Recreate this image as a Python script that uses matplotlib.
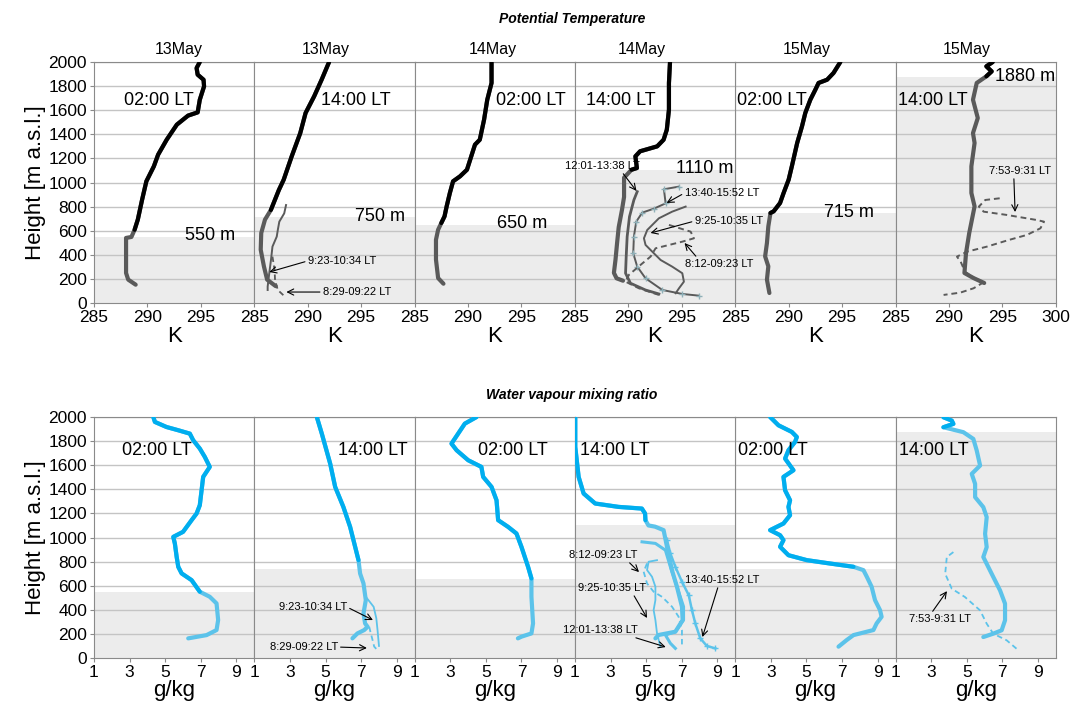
import numpy as np
import matplotlib
matplotlib.use("Agg")
import matplotlib.pyplot as plt

plt.rcParams['font.family'] = ['Liberation Sans', 'DejaVu Sans']

# ---- labels ---------------------------------------------------------------
days = ['13May', '13May', '14May', '14May', '15May', '15May']
times = ['02:00 LT', '14:00 LT', '02:00 LT', '14:00 LT', '02:00 LT', '14:00 LT']
bl_labels = ['550 m', '750 m', '650 m', '1110 m', '715 m', '1880 m']
# top of grey boundary-layer box (m), as drawn in each row
bl_theta = [550, 710, 650, 1105, 745, 1875]
bl_q = [550, 740, 655, 1105, 740, 1875]

# ---- potential temperature (K) / height (m) -------------------------------
th1_K = [288.9, 288.2, 288.0, 288.0, 288.0, 288.5, 288.8, 289.1, 289.5, 289.9, 290.6, 291.0,
         291.8, 292.75, 293.8, 294.7, 294.9, 295.3, 295.25, 294.7, 294.6, 294.9]
th1_z = [152, 194, 249, 415, 540, 548, 608, 692, 857, 1010, 1134, 1231,
         1355, 1480, 1555, 1582, 1687, 1798, 1853, 1895, 1950, 2000]

th2_K = [287.0, 286.2, 285.9, 285.6, 285.65, 286.0, 286.55, 287.3, 287.75, 288.5, 289.3,
         289.8, 290.6, 291.3, 292.0]
th2_z = [140, 194, 304, 442, 581, 692, 772, 938, 1023, 1217, 1410, 1577, 1715, 1853, 2000]
th2a_K = [286.25, 286.25, 286.4, 286.56, 286.7, 287.1, 287.2, 287.34, 287.8, 287.97]
th2a_z = [108, 136, 247, 357, 468, 551, 606, 675, 744, 813]
th2b_K = [286.7, 286.9, 286.94, 287.2, 287.8]
th2b_z = [385, 274, 191, 108, 58]

th3_K = [287.7, 287.2, 287.0, 287.0, 287.2, 287.5, 287.8, 288.0, 288.3, 288.6, 289.25,
         289.9, 290.3, 290.65, 291.1, 291.5, 291.8, 292.2, 292.2]
th3_z = [160, 207, 360, 525, 608, 664, 719, 802, 913, 1010, 1051, 1106, 1217, 1314, 1355,
         1521, 1687, 1826, 2000]

th4_K = [289.5, 288.9, 288.65, 288.8, 288.95, 289.1, 289.4, 289.6, 289.6, 290.3, 290.8,
         290.66, 291.1, 292.7, 293.3, 293.6, 293.8, 293.8, 293.9]
th4_z = [185, 205, 250, 360, 500, 630, 770, 880, 1040, 1106, 1120, 1217, 1259, 1300, 1355,
         1438, 1604, 1826, 2000]
th4a_K = [290.83, 290.52, 290.11, 289.89, 289.8, 289.74, 290.2, 291.6, 292.86]   # 12:01-13:38
th4a_z = [924, 855, 717, 551, 385, 247, 164, 108, 75]
th4b_K = [294.74, 293.33, 293.49, 292.39, 291.3, 290.74, 290.52, 290.46, 290.83, 291.61,
          293.18, 295.05, 296.6]                                                  # 13:40-15:52
th4b_z = [966, 944, 827, 783, 750, 675, 551, 413, 302, 205, 108, 75, 61]
th4c_K = [295.36, 294.1, 292.86, 291.77, 291.46, 291.61, 292.24, 293.02, 294.1, 295.05,
          295.2, 294.74, 294.43]                                                  # 9:25-10:35
th4c_z = [800, 758, 703, 606, 537, 482, 426, 357, 302, 247, 177, 122, 81]
th4d_K = [293.8, 295.83, 296.14, 295.05, 292.55, 292.08, 291.14, 290.05, 289.74, 290.99,
          292.86]                                                                 # 8:12-09:23
th4d_z = [648, 592, 537, 509, 454, 385, 316, 233, 177, 122, 67]

th5_K = [288.2, 287.97, 288.1, 287.8, 287.97, 288.1, 288.3, 288.6, 289.2, 289.53, 290.0,
         290.3, 290.8, 291.25, 291.56, 292.03, 292.5, 292.8, 293.6, 294.2, 294.84]
th5_z = [83, 194, 304, 387, 498, 636, 747, 761, 830, 913, 1023, 1134, 1328, 1466, 1577,
         1687, 1770, 1826, 1853, 1909, 2000]

th6_K = [293.3, 292.3, 291.45, 291.6, 291.9, 292.4, 292.1, 292.1, 292.4, 292.25, 292.7,
         292.25, 292.6, 293.5, 294.0, 293.5, 294.1]
th6_z = [166, 207, 249, 415, 581, 802, 913, 1134, 1328, 1410, 1535, 1687, 1826, 1881, 1922,
         1964, 2000]
th6a_K = [294.75, 293.4, 292.8, 293.25, 295.4, 298.2, 298.9, 298.56, 297.3, 295.6, 293.56,
          291.7, 290.75, 291.1, 291.5, 293.1, 292.3, 291.06, 289.5]
th6a_z = [869, 855, 800, 758, 731, 689, 675, 620, 565, 523, 468, 426, 385, 343, 260, 164,
          122, 86, 67]

# ---- water vapour mixing ratio (g/kg) / height (m) ------------------------
q1_g = [6.29, 7.32, 7.88, 7.97, 7.88, 7.5, 6.94, 6.48, 5.92, 5.73, 5.64, 5.54, 5.45, 6.0,
        6.48, 6.76, 6.94, 7.04, 7.13, 7.5, 7.22, 6.94, 6.57, 6.38, 5.73, 5.07, 4.42, 4.33]
q1_z = [163, 190, 232, 315, 453, 508, 550, 646, 702, 757, 840, 950, 1005, 1047, 1144, 1199,
        1268, 1392, 1503, 1586, 1669, 1738, 1807, 1862, 1890, 1917, 1959, 2000]

q2_g = [6.51, 6.79, 7.17, 7.36, 7.22, 7.13, 7.26, 7.13, 6.94, 6.85, 6.38, 6.0, 5.54, 5.26,
        4.79, 4.51]
q2_z = [163, 204, 232, 259, 287, 370, 480, 619, 701, 812, 1088, 1254, 1420, 1613, 1862, 2000]
q2a_g = [7.25, 7.7, 7.85, 7.92, 8.0]
q2a_z = [510, 425, 330, 230, 100]
q2b_g = [7.45, 7.55, 7.64, 7.73, 7.85]
q2b_z = [259, 200, 149, 95, 75]

q3_g = [6.8, 7.0, 7.56, 7.65, 7.56, 7.56, 7.37, 7.0, 6.72, 6.25, 5.69, 5.6, 5.32, 4.85,
        4.75, 4.01, 3.36, 3.07, 3.82, 4.48]
q3_z = [163, 177, 204, 287, 508, 660, 757, 922, 1033, 1088, 1144, 1309, 1420, 1503, 1586,
        1641, 1724, 1779, 1945, 2000]

q4_g = [5.52, 5.7, 6.64, 7.05, 7.01, 6.73, 6.45, 6.17, 5.98, 5.5, 5.13, 4.96, 4.94, 4.76,
        3.45, 2.14, 1.49, 1.21, 1.02, 1.02]
q4_z = [163, 191, 218, 315, 426, 591, 729, 923, 1061, 1090, 1100, 1144, 1199, 1240, 1254,
        1282, 1365, 1503, 1751, 2000]
q4a_g = [4.77, 5.52, 6.08, 6.36, 6.73, 7.1, 7.1, 6.64, 6.08, 6.36, 6.64]           # 12:01-13:38
q4a_z = [964, 951, 895, 757, 591, 426, 315, 218, 191, 122, 80]
q4b_g = [6.17, 6.36, 6.64, 7.01, 7.39, 7.57, 7.76, 8.04, 8.41, 8.88]               # 13:40-15:52
q4b_z = [978, 868, 757, 633, 522, 398, 287, 163, 100, 80]
q4c_g = [5.61, 5.14, 5.05, 5.33, 5.52, 5.52, 5.42, 5.52, 5.61, 5.8]                # 9:25-10:35
q4c_z = [812, 799, 730, 674, 591, 481, 398, 315, 205, 94]
q4d_g = [5.05, 4.86, 5.05, 5.42, 5.89, 6.45, 6.82, 7.01, 7.01]                     # 8:12-09:23
q4d_z = [785, 716, 619, 550, 508, 426, 343, 232, 94]

q5_g = [6.8, 7.26, 7.64, 8.76, 8.94, 9.22, 9.13, 8.85, 8.66, 8.39, 8.2, 7.64, 6.33, 5.02,
        3.99, 3.52, 3.71, 3.52, 2.96, 3.71, 4.08, 3.99, 4.08, 3.8, 3.71, 4.27, 3.8, 3.99,
        4.36, 4.46, 4.18, 3.43, 2.96]
q5_z = [94, 149, 190, 232, 287, 342, 398, 480, 591, 674, 729, 757, 784, 812, 853, 923, 978,
        1019, 1061, 1116, 1185, 1254, 1309, 1392, 1503, 1558, 1655, 1724, 1793, 1834, 1876,
        1931, 2000]

q6_g = [5.93, 6.49, 6.96, 7.15, 7.15, 6.87, 6.4, 5.93, 6.12, 6.03, 6.12, 5.93, 5.47, 5.47,
        5.28, 5.75, 5.56, 5.37, 4.81, 3.69, 4.25, 4.16, 3.69]
q6_z = [174, 202, 230, 313, 451, 561, 699, 838, 920, 1031, 1169, 1252, 1335, 1445, 1528,
        1597, 1722, 1818, 1874, 1915, 1943, 1970, 1998]
q6a_g = [4.25, 3.88, 3.79, 4.16, 4.9, 5.75, 6.12, 6.49, 7.24, 7.9]
q6a_z = [879, 838, 699, 575, 506, 395, 285, 202, 147, 64]

# ---- styling ----------------------------------------------------------------
GRID = '#c4c4c4'
SHADE = '#ececec'
SPINE = '#8a8a8a'
TH_DARK, TH_LIGHT = 'black', '#5a5a5a'
Q_DARK, Q_LIGHT = '#00aeef', '#5cc3ea'

W, H = 1070, 705
fig = plt.figure(figsize=(W / 100, H / 100), dpi=100)

px_left = 94
px_w = 160.3


def make_axes(top_px, bot_px):
    axs = []
    for i in range(6):
        ax = fig.add_axes([(px_left + i * px_w) / W, 1 - bot_px / H,
                           px_w / W, (bot_px - top_px) / H])
        ax.set_ylim(0, 2000)
        ax.set_yticks(range(0, 2001, 200))
        for y in range(200, 2001, 200):
            ax.axhline(y, color=GRID, lw=1, zorder=1)
        for s in ax.spines.values():
            s.set_color(SPINE)
        ax.tick_params(axis='both', colors=SPINE, labelcolor='black', labelsize=12.5,
                       length=3, direction='out', pad=2)
        if i > 0:
            ax.tick_params(axis='y', left=False, labelleft=False)
        else:
            ax.set_ylabel('Height [m a.s.l.]', fontsize=16, labelpad=2)
        axs.append(ax)
    return axs


def profile(ax, x, z, bl, dark, light, lw=3.0):
    x = np.asarray(x)
    z = np.asarray(z)
    ax.plot(x, z, color=light, lw=lw, solid_capstyle='round', zorder=3)
    m = z >= bl
    ax.plot(x[m], z[m], color=dark, lw=lw, solid_capstyle='round', zorder=4)


def note(ax, text, xy, xytext, ha, rel, fs=8):
    ax.annotate(text, xy=xy, xytext=xytext, fontsize=fs, ha=ha, va='center',
                annotation_clip=False, zorder=6,
                arrowprops=dict(arrowstyle='->', color='black', lw=0.8,
                                shrinkA=0, shrinkB=0, relpos=rel, mutation_scale=11))


# ================= potential temperature row =================
top = make_axes(62, 303)
th_main = [(th1_K, th1_z), (th2_K, th2_z), (th3_K, th3_z),
           (th4_K, th4_z), (th5_K, th5_z), (th6_K, th6_z)]
time_x_top = [0.405, 0.634, 0.726, 0.288, 0.23, 0.234]
day_x = [0.53, 0.447, 0.49, 0.419, 0.448, 0.446]
bl_pos_top = [(295.86, 564), (296.77, 714), (295.05, 656), (297.1, 1120), (295.65, 755),
              (297.12, 1876)]
for i, ax in enumerate(top):
    ax.set_xlim(285, 300)
    ax.set_xticks([285, 290, 295, 300] if i == 5 else [285, 290, 295])
    ax.axhspan(0, bl_theta[i], color=SHADE, lw=0, zorder=0)
    ax.set_xlabel('K', fontsize=16, labelpad=1)
    profile(ax, th_main[i][0], th_main[i][1], bl_theta[i], TH_DARK, TH_LIGHT)
    ax.text(time_x_top[i], 0.842, times[i], transform=ax.transAxes, fontsize=13,
            ha='center', va='center', zorder=5)
    ax.text(day_x[i], 1.02, days[i], transform=ax.transAxes, fontsize=11.5,
            ha='center', va='bottom')
    ax.text(bl_pos_top[i][0], bl_pos_top[i][1], bl_labels[i], fontsize=13,
            ha='center', va='center', zorder=5)

ax = top[1]
ax.plot(th2a_K, th2a_z, color=TH_LIGHT, lw=1.4, zorder=3)
ax.plot(th2b_K, th2b_z, color=TH_LIGHT, lw=1.3, ls=(0, (3, 2)), zorder=3)
note(ax, '9:23-10:34 LT', (286.4, 257), (290.0, 349), 'left', (0, 0.5))
note(ax, '8:29-09:22 LT', (288.0, 91), (291.4, 91), 'left', (0, 0.5))

ax = top[3]
ax.set_zorder(2)   # labels spill over into the next panel
ax.plot(th4a_K, th4a_z, color=TH_LIGHT, lw=2.0, zorder=3)
ax.plot(th4b_K, th4b_z, color=TH_LIGHT, lw=1.4, marker='+', ms=4, mec='#8fb0b8', zorder=3)
ax.plot(th4c_K, th4c_z, color=TH_LIGHT, lw=1.4, zorder=3)
ax.plot(th4d_K, th4d_z, color=TH_LIGHT, lw=1.4, ls=(0, (3, 2)), zorder=3)
note(ax, '12:01-13:38 LT', (290.76, 930), (287.58, 1137), 'center', (0.75, 0))
note(ax, '13:40-15:52 LT', (293.58, 830), (295.26, 913), 'left', (0, 0.5))
note(ax, '9:25-10:35 LT', (292.08, 581), (296.2, 680), 'left', (0, 0.5))
note(ax, '8:12-09:23 LT', (295.26, 498), (295.26, 324), 'left', (0.2, 1))

ax = top[5]
ax.plot(th6a_K, th6a_z, color=TH_LIGHT, lw=1.4, ls=(0, (3, 2)), zorder=3)
note(ax, '7:53-9:31 LT', (296.19, 755), (296.65, 1095), 'center', (0.4, 0))

# ================= water vapour row =================
bot = make_axes(417, 658)
q_main = [(q1_g, q1_z), (q2_g, q2_z), (q3_g, q3_z),
          (q4_g, q4_z), (q5_g, q5_z), (q6_g, q6_z)]
time_x_bot = [0.393, 0.737, 0.61, 0.25, 0.233, 0.24]
for i, ax in enumerate(bot):
    ax.set_xlim(1, 10)
    ax.set_xticks([1, 3, 5, 7, 9])
    ax.axhspan(0, bl_q[i], color=SHADE, lw=0, zorder=0)
    ax.set_xlabel('g/kg', fontsize=16, labelpad=0)
    profile(ax, q_main[i][0], q_main[i][1], bl_q[i], Q_DARK, Q_LIGHT)
    ax.text(time_x_bot[i], 0.862, times[i], transform=ax.transAxes, fontsize=13,
            ha='center', va='center', zorder=5)

ax = bot[1]
ax.plot(q2a_g, q2a_z, color=Q_LIGHT, lw=1.3, zorder=3)
ax.plot(q2b_g, q2b_z, color=Q_LIGHT, lw=1.3, ls=(0, (3, 2)), zorder=3)
note(ax, '9:23-10:34 LT', (7.66, 315), (6.2, 423), 'right', (1, 0.5))
note(ax, '8:29-09:22 LT', (7.32, 83), (5.69, 91), 'right', (1, 0.5))

ax = bot[3]
ax.set_zorder(2)
ax.plot(q4a_g, q4a_z, color=Q_LIGHT, lw=2.2, zorder=3)
ax.plot(q4b_g, q4b_z, color=Q_LIGHT, lw=1.8, marker='+', ms=4, zorder=3)
ax.plot(q4c_g, q4c_z, color=Q_LIGHT, lw=1.3, zorder=3)
ax.plot(q4d_g, q4d_z, color=Q_LIGHT, lw=1.3, ls=(0, (3, 2)), zorder=3)
note(ax, '8:12-09:23 LT', (4.6, 713), (4.49, 854), 'right', (0.85, 0))
note(ax, '9:25-10:35 LT', (5.05, 332), (5.0, 580), 'right', (0.8, 0))
note(ax, '12:01-13:38 LT', (6.1, 91), (4.55, 232), 'right', (0.85, 0))
note(ax, '13:40-15:52 LT', (8.16, 174), (7.19, 647), 'left', (0.45, 0))

ax = bot[5]
ax.plot(q6a_g, q6a_z, color=Q_LIGHT, lw=1.3, ls=(0, (3, 2)), zorder=3)
note(ax, '7:53-9:31 LT', (3.89, 555), (3.5, 323), 'center', (0.35, 1))

fig.text(572 / W, 1 - 19 / H, 'Potential Temperature', ha='center', va='center',
         fontsize=10, fontweight='bold', fontstyle='italic')
fig.text(572 / W, 1 - 395 / H, 'Water vapour mixing ratio', ha='center', va='center',
         fontsize=10, fontweight='bold', fontstyle='italic')

fig.savefig('out.png', dpi=100)
